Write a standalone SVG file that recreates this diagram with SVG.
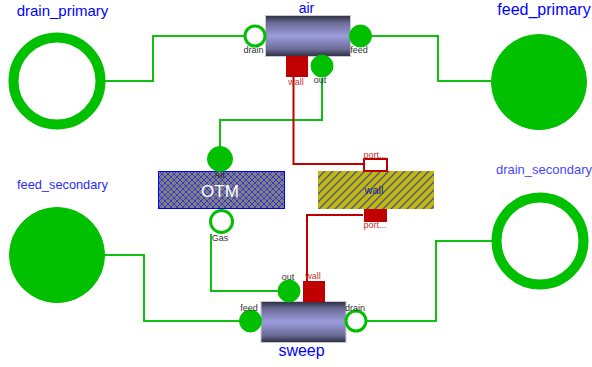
<svg xmlns="http://www.w3.org/2000/svg" width="592" height="367" viewBox="0 0 592 367">
<style>
text{font-family:"Liberation Sans",Arial,sans-serif;text-anchor:middle}
.t{fill:#0000ff}
.s{font-size:9px;fill:#333}
.r{font-size:9px;fill:#c83030}
.g{fill:none;stroke:#10c010;stroke-width:2}
.w{fill:none;stroke:#c00000;stroke-width:2}
.in{fill:#00c000;stroke:#00c000}
.out{fill:#fff;stroke:#00c000}
</style>
<defs>
<linearGradient id="pipe" x1="0" y1="0" x2="0" y2="1">
<stop offset="0" stop-color="#2c2c40"/><stop offset=".18" stop-color="#6c6c98"/><stop offset=".5" stop-color="#9c9cdc"/><stop offset=".82" stop-color="#6c6c98"/><stop offset="1" stop-color="#2c2c40"/>
</linearGradient>
<pattern id="cross" width="6" height="6" patternUnits="userSpaceOnUse">
<rect width="6" height="6" fill="#808080"/>
<path d="M0 0L6 6M6 0L0 6" stroke="#3030d8" stroke-width=".9"/>
</pattern>
<pattern id="diag" width="8" height="8" patternUnits="userSpaceOnUse">
<rect width="8" height="8" fill="#c4b800"/>
<path d="M-1 9L9 -1M-1 1L1 -1M7 9L9 7" stroke="#4050b8" stroke-width="1.300"/>
</pattern>
</defs>
<g id="connectors">
<path class="g" d="M105 81H153V36H245"/>
<path class="g" d="M371 36H438V81H492"/>
<path class="g" d="M322 78V120H220V147"/>
<path class="w" d="M293.500 76V164H363"/>
<path class="w" d="M363 215H307V281"/>
<path class="g" d="M211 234V291H279"/>
<path class="g" d="M105 255H144V321H239"/>
<path class="g" d="M367 321H436V241H492"/>
</g>
<g id="drain_primary">
<circle class="out" cx="57" cy="81" r="43.500" stroke-width="10"/>
<text class="t" x="62.500" y="16" font-size="15">drain_primary</text>
</g>
<g id="feed_primary">
<circle class="in" cx="539" cy="82" r="47.500"/>
<text class="t" x="544" y="15" font-size="16">feed_primary</text>
</g>
<g id="feed_secondary">
<circle class="in" cx="57" cy="255" r="47.500"/>
<text class="t" x="62.500" y="189" font-size="12.800" opacity=".85">feed_secondary</text>
</g>
<g id="drain_secondary">
<circle class="out" cx="540" cy="241" r="43.500" stroke-width="10"/>
<text class="t" x="544" y="174" font-size="13" opacity=".75">drain_secondary</text>
</g>
<g id="air">
<rect x="265.500" y="15.500" width="85" height="41" fill="url(#pipe)" stroke="#c8c8d0"/>
<text class="t" x="306.500" y="13" font-size="14">air</text>
<circle class="out" cx="255" cy="36" r="10" stroke-width="3"/>
<text class="s" x="253.500" y="53">drain</text>
<circle class="in" cx="360.500" cy="36" r="11"/>
<text class="s" x="359" y="53">feed</text>
<rect x="286" y="56" width="22" height="21" fill="#c00000"/>
<text class="r" x="296" y="85">wall</text>
<circle class="in" cx="322" cy="66" r="11"/>
<text class="s" x="320" y="83">out</text>
</g>
<g id="OTM">
<rect x="158.500" y="171.500" width="126" height="37" fill="url(#cross)" stroke="#0000ff"/>
<circle class="in" cx="220" cy="159" r="12.500"/>
<text x="220" y="178" font-size="9" fill="#222">Air</text>
<text x="220" y="197" font-size="17" fill="#fff">OTM</text>
<circle class="out" cx="221.500" cy="221.500" r="11" stroke-width="3"/>
<text class="s" x="220" y="241">Gas</text>
</g>
<g id="wall">
<rect x="318" y="171" width="116" height="38" fill="url(#diag)"/>
<text x="374" y="194" font-size="11" fill="#20209c">wall</text>
<rect x="364" y="159" width="23" height="12" fill="#fff" stroke="#c00000" stroke-width="2"/>
<text class="r" x="375" y="158">port...</text>
<rect x="364" y="209" width="23" height="13" fill="#c00000"/>
<text class="r" x="375" y="228">port...</text>
</g>
<g id="sweep">
<rect x="261" y="301.500" width="85" height="41" fill="url(#pipe)" stroke="#c8c8d0"/>
<text class="t" x="301.500" y="356" font-size="16">sweep</text>
<circle class="in" cx="250.500" cy="321" r="11"/>
<text class="s" x="249" y="311">feed</text>
<circle class="out" cx="356" cy="321" r="10" stroke-width="3"/>
<text class="s" x="355" y="311">drain</text>
<circle class="in" cx="289" cy="291" r="11"/>
<text class="s" x="288" y="280">out</text>
<rect x="303" y="281" width="22" height="21" fill="#c00000"/>
<text class="r" x="313" y="279">wall</text>
</g>
</svg>
